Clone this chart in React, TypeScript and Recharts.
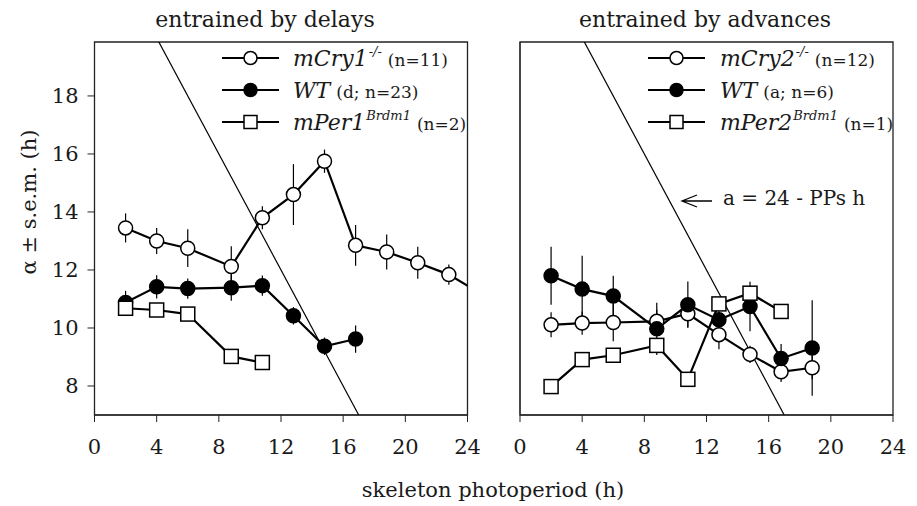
import React from 'react';
import { LineChart, Line, XAxis, YAxis, ErrorBar, ReferenceArea } from 'recharts';

const FONT = '"DejaVu Serif", serif';

// axes
const xTicks = [0, 4, 8, 12, 16, 20, 24];
const yTicks = [8, 10, 12, 14, 16, 18];
const xDomain: [number, number] = [0, 24];
const yDomain: [number, number] = [7, 19.86];

// a = 24 - PPs reference line (end points)
const diagPP = [4, 17];
const diagAlpha = [20, 7];

// left panel: entrained by delays
const cry1PP = [2, 4, 6, 8.8, 10.8, 12.8, 14.8, 16.8, 18.8, 20.8, 22.8, 24.8];
const cry1Alpha = [13.45, 13.0, 12.75, 12.12, 13.8, 14.6, 15.75, 12.85, 12.62, 12.25, 11.84, 11.2];
const cry1Sem = [0.5, 0.45, 0.65, 0.7, 0.4, 1.05, 0.4, 0.7, 0.6, 0.55, 0.35, 0];

const wtdPP = [2, 4, 6, 8.8, 10.8, 12.8, 14.8, 16.8];
const wtdAlpha = [10.88, 11.42, 11.36, 11.39, 11.46, 10.42, 9.37, 9.62];
const wtdSem = [0.4, 0.4, 0.35, 0.45, 0.35, 0.3, 0.3, 0.47];

const per1PP = [2, 4, 6, 8.8, 10.8];
const per1Alpha = [10.68, 10.62, 10.48, 9.02, 8.81];

// right panel: entrained by advances
const cry2PP = [2, 4, 6, 8.8, 10.8, 12.8, 14.8, 16.8, 18.8];
const cry2Alpha = [10.11, 10.17, 10.19, 10.23, 10.49, 9.77, 9.09, 8.49, 8.63];
const cry2Sem = [0.43, 0.4, 0.65, 0.4, 0.45, 0.5, 0.3, 0.35, 0.4];

const wtaPP = [2, 4, 6, 8.8, 10.8, 12.8, 14.8, 16.8, 18.8];
const wtaAlpha = [11.8, 11.34, 11.1, 9.97, 10.8, 10.28, 10.74, 8.95, 9.31];
const wtaSem = [1.0, 1.15, 0.7, 0.9, 0.8, 0.3, 0.85, 0.5, 1.65];

const per2PP = [2, 4, 6, 8.8, 10.8, 12.8, 14.8, 16.8];
const per2Alpha = [7.98, 8.91, 9.06, 9.4, 8.23, 10.83, 11.2, 10.57];

// texts
const titles = ['entrained by delays', 'entrained by advances'];
const xLabel = 'skeleton photoperiod (h)';
const yLabel = 'α ± s.e.m. (h)';
const annotation = 'a = 24 - PPs h';

type LegendItem = { name: string; sup: string; note: string; marker: 'open' | 'filled' | 'square' };
const legendLeft: LegendItem[] = [
  { name: 'mCry1', sup: '-/-', note: '(n=11)', marker: 'open' },
  { name: 'WT', sup: '', note: '(d; n=23)', marker: 'filled' },
  { name: 'mPer1', sup: 'Brdm1', note: '(n=2)', marker: 'square' },
];
const legendRight: LegendItem[] = [
  { name: 'mCry2', sup: '-/-', note: '(n=12)', marker: 'open' },
  { name: 'WT', sup: '', note: '(a; n=6)', marker: 'filled' },
  { name: 'mPer2', sup: 'Brdm1', note: '(n=1)', marker: 'square' },
];

const build = (pp: number[], a: number[], s?: number[]) =>
  pp.map((x, i) => ({ pp: x, alpha: a[i], sem: s ? s[i] : 0 }));

const diagData = build(diagPP, diagAlpha);

const openDot = { r: 7, fill: '#fff', stroke: '#000', strokeWidth: 1.5 };
const filledDot = { r: 7, fill: '#000', stroke: '#000', strokeWidth: 1.5 };
const squareDot = (p: any) => {
  if (p.cx == null || p.cy == null) return <g key={`sq-${p.index}`} />;
  return (
    <rect
      key={`sq-${p.index}`}
      x={p.cx - 7}
      y={p.cy - 7}
      width={14}
      height={14}
      fill="#fff"
      stroke="#000"
      strokeWidth={1.5}
    />
  );
};

type Series = { pp: number[]; alpha: number[]; sem?: number[]; kind: 'open' | 'filled' | 'square' };

function Panel({ width, margin, showYLabels, series }: { width: number; margin: any; showYLabels: boolean; series: Series[] }) {
  return (
    <LineChart width={width} height={506} margin={margin}>
      <XAxis
        type="number"
        dataKey="pp"
        domain={xDomain}
        ticks={xTicks}
        interval={0}
        allowDataOverflow
        height={60}
        tickSize={7}
        tickMargin={17}
        stroke="#222"
        tick={{ fill: '#1a1a1a', fontSize: 21, fontFamily: FONT }}
      />
      <YAxis
        type="number"
        dataKey="alpha"
        domain={yDomain}
        ticks={yTicks}
        interval={0}
        allowDataOverflow
        width={showYLabels ? 40 : 10}
        tickSize={7}
        tickMargin={9}
        stroke="#222"
        tick={showYLabels ? { fill: '#1a1a1a', fontSize: 21, fontFamily: FONT } : false}
      />
      <ReferenceArea x1={xDomain[0]} x2={xDomain[1]} y1={yDomain[0]} y2={yDomain[1]} fill="none" stroke="#222" strokeWidth={1.3} />
      <Line
        data={diagData}
        dataKey="alpha"
        stroke="#000"
        strokeWidth={1.2}
        dot={false}
        isAnimationActive={false}
      />
      {series.map((s, i) => (
        <Line
          key={i}
          data={build(s.pp, s.alpha, s.sem)}
          dataKey="alpha"
          stroke="#000"
          strokeWidth={2.2}
          dot={s.kind === 'square' ? squareDot : s.kind === 'open' ? openDot : filledDot}
          isAnimationActive={false}
        >
          {s.sem ? <ErrorBar dataKey="sem" direction="y" width={0} stroke="#000" strokeWidth={1.2} /> : null}
        </Line>
      ))}
    </LineChart>
  );
}

function LegendBlock({ items, x0, textX, ys }: { items: LegendItem[]; x0: number; textX: number; ys: number[] }) {
  return (
    <g>
      {items.map((it, i) => {
        const y = ys[i];
        const cx = x0 + 28.5;
        return (
          <g key={i}>
            <line x1={x0} x2={x0 + 57} y1={y} y2={y} stroke="#000" strokeWidth={2.2} />
            {it.marker === 'square' ? (
              <rect x={cx - 6.5} y={y - 6.5} width={13} height={13} fill="#fff" stroke="#000" strokeWidth={1.5} />
            ) : (
              <circle cx={cx} cy={y} r={6.5} fill={it.marker === 'filled' ? '#000' : '#fff'} stroke="#000" strokeWidth={1.5} />
            )}
            <text x={textX} y={y + 8} fontFamily={FONT} fill="#1a1a1a">
              <tspan fontSize={22} fontStyle="italic">{it.name}</tspan>
              {it.sup ? (
                <tspan fontSize={13} fontStyle="italic" dy={-10} dx={1}>{it.sup}</tspan>
              ) : null}
              <tspan fontSize={17} dy={it.sup ? 10 : 0} dx={6}>{it.note}</tspan>
            </text>
          </g>
        );
      })}
    </g>
  );
}

export default function App() {
  const rows = [58, 90, 122];
  return (
    <div style={{ position: 'absolute', left: 0, top: 0, width: 917, height: 506, background: '#fff' }}>
      <div style={{ position: 'absolute', left: 0, top: 0 }}>
        <Panel
          width={480}
          margin={{ top: 42, right: 12.5, bottom: 31, left: 54.5 }}
          showYLabels
          series={[
            { pp: cry1PP, alpha: cry1Alpha, sem: cry1Sem, kind: 'open' },
            { pp: wtdPP, alpha: wtdAlpha, sem: wtdSem, kind: 'filled' },
            { pp: per1PP, alpha: per1Alpha, kind: 'square' },
          ]}
        />
      </div>
      <div style={{ position: 'absolute', left: 480, top: 0 }}>
        <Panel
          width={437}
          margin={{ top: 42, right: 24, bottom: 31, left: 30 }}
          showYLabels={false}
          series={[
            { pp: cry2PP, alpha: cry2Alpha, sem: cry2Sem, kind: 'open' },
            { pp: wtaPP, alpha: wtaAlpha, sem: wtaSem, kind: 'filled' },
            { pp: per2PP, alpha: per2Alpha, kind: 'square' },
          ]}
        />
      </div>
      <svg width={917} height={506} style={{ position: 'absolute', left: 0, top: 0, pointerEvents: 'none' }}>
        <text x={265} y={27} textAnchor="middle" fontFamily={FONT} fontSize={22} fill="#1a1a1a">{titles[0]}</text>
        <text x={705} y={27} textAnchor="middle" fontFamily={FONT} fontSize={22} fill="#1a1a1a">{titles[1]}</text>
        <text x={493} y={497} textAnchor="middle" fontFamily={FONT} fontSize={21} fill="#1a1a1a">{xLabel}</text>
        <text
          x={0}
          y={0}
          transform="translate(36,202) rotate(-90)"
          textAnchor="middle"
          fontFamily={FONT}
          fontSize={21}
          fill="#1a1a1a"
        >
          {yLabel}
        </text>
        <LegendBlock items={legendLeft} x0={222} textX={293} ys={rows} />
        <LegendBlock items={legendRight} x0={648} textX={720} ys={rows} />
        <path d="M712,201 L682,201 M697,195 L682,201 L697,207" stroke="#000" strokeWidth={1.3} fill="none" />
        <text x={723} y={205} fontFamily={FONT} fontSize={20} fill="#1a1a1a">{annotation}</text>
      </svg>
    </div>
  );
}
